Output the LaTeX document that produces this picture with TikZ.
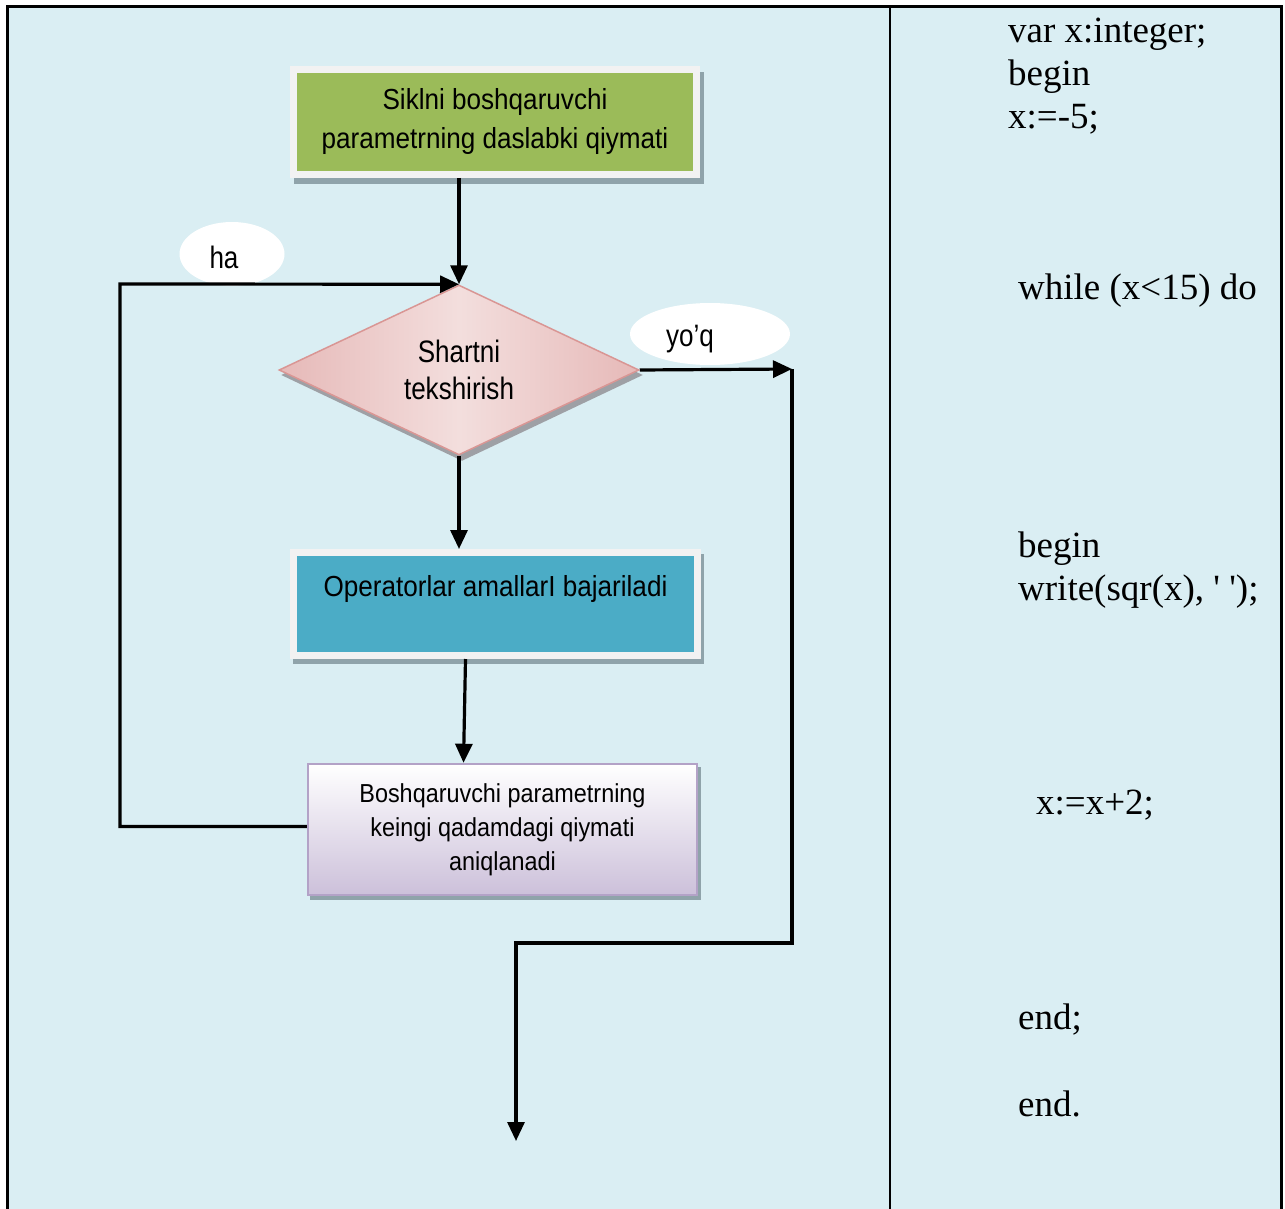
\documentclass[tikz,border=0pt]{standalone}
\usepackage{fontspec}
\setmainfont{Liberation Serif}
\newfontfamily\arialf[FakeStretch=0.9]{Liberation Sans}
\newfontfamily\arialn[FakeStretch=0.84]{Liberation Sans}
\usetikzlibrary{arrows.meta,shapes.geometric}
\pgfdeclarelayer{pagebg}
\pgfdeclarelayer{shadowl}
\pgfsetlayers{pagebg,shadowl,main}
\definecolor{pagec}{HTML}{DAEEF3}
\definecolor{greenc}{HTML}{9BBB59}
\definecolor{bluec}{HTML}{4BACC6}
\definecolor{rimc}{HTML}{F2F2F2}
\definecolor{shadc}{HTML}{8FA3AA}
\definecolor{pinkL}{HTML}{F3DEDD}
\definecolor{pinkD}{HTML}{E6B9B8}
\definecolor{pinkB}{HTML}{D99694}
\definecolor{purpD}{HTML}{CCC0DA}
\definecolor{purpB}{HTML}{B3A2C7}
\begin{document}
\begin{tikzpicture}[x=1pt,y=-1pt,
  arr/.style={line width=3.2pt,-{Triangle[length=19pt,width=17pt]}},
  sfont/.style={font=\arialf\fontsize{29}{39}\selectfont},
  rimbox/.style={draw=rimc,line width=7pt,inner sep=0pt,sfont,align=center},
  oval/.style={ellipse,fill=white,inner sep=0pt,font=\arialn\fontsize{31}{37}\selectfont},
  code/.style={anchor=base west,inner sep=0pt,font=\fontsize{37}{43}\selectfont}
]
\useasboundingbox (0,0) rectangle (1285,1209);
\begin{pgfonlayer}{pagebg}
  \fill[pagec] (7,7) rectangle (1282,1209);
\end{pgfonlayer}
% frame
\draw[line width=3pt] (7,1209) -- (7,7) -- (1281.5,7);
\draw[line width=2.5pt] (1281.5,5.5) -- (1281.5,1209);
\draw[line width=2pt] (889.5,7) -- (889.5,1209);

% ellipses (labels)
\node[oval,minimum width=105pt,minimum height=64pt,text height=28pt,text depth=0pt] (ha) at (232,254) {ha\hspace*{16pt}};
\node[oval,minimum width=160pt,minimum height=62pt,text height=24pt,text depth=0pt] (yoq) at (710,334) {yo’q\hspace*{40pt}};

% boxes
\node[rimbox,fill=greenc,minimum width=403pt,minimum height=105pt] (green) at (495,122)
  {Siklni boshqaruvchi\\parametrning daslabki qiymati};
\node[diamond,aspect=2.1,minimum width=360pt,minimum height=170pt,inner sep=0pt,
  left color=pinkD,right color=pinkD,middle color=pinkL,draw=pinkB,line width=1.5pt,
  font=\arialn\fontsize{31}{37}\selectfont,align=center] (dia) at (459,370)
  {Shartni\\tekshirish};
\node[rimbox,fill=bluec,minimum width=404pt,text height=43.5pt,text depth=59.5pt,anchor=base] (blue) at (495.5,596)
  {Operatorlar amallarI bajariladi};
\node[draw=purpB,line width=2.5pt,top color=white,bottom color=purpD,minimum width=389pt,minimum height=131pt,
  inner sep=0pt,align=center,font=\arialf\fontsize{26}{34}\selectfont] (purple) at (502.5,829.5)
  {Boshqaruvchi parametrning\\keingi qadamdagi qiymati\\aniqlanadi};

% shadows
\begin{pgfonlayer}{shadowl}
  \fill[shadc] ([shift={(4,6)}]green.south west) rectangle ([shift={(4,6)}]green.north east);
  \fill[shadc] ([shift={(3,5)}]blue.south west) rectangle ([shift={(3,5)}]blue.north east);
  \fill[shadc] ([shift={(3,4)}]purple.south west) rectangle ([shift={(3,4)}]purple.north east);
  \fill[shadc!80!pinkB] ([shift={(3,5)}]dia.north) -- ([shift={(3,5)}]dia.east) -- ([shift={(3,5)}]dia.south) -- ([shift={(3,5)}]dia.west) -- cycle;
\end{pgfonlayer}

% connectors
\coordinate (lpA) at (120,826.5);
\coordinate (lpB) at (120,284);
\coordinate (yqA) at (792,369);
\coordinate (exA) at (792,943);
\coordinate (exB) at (516,943);
\coordinate (exC) at (516,1141);
\draw[arr] (dia.north |- green.south) -- (dia.north);
\draw[arr] ([yshift=3pt]purple.west) -- (lpA) -- (lpB) -- (dia.north);
\draw[arr] (dia.east) -- (yqA);
\draw[arr] (yqA) -- (exA) -- (exB) -- (exC);
\draw[arr] (dia.south) -- (dia.south |- blue.north);
\draw[arr] ([xshift=-30pt]blue.south) -- ([xshift=-39pt]purple.north);

% code
\node[code] (c1) at (1008,43) {var x:integer;};
\node[code] (c2) at (1008,86) {begin};
\node[code] (c3) at (1008,129) {x:=-5;};
\node[code] (c4) at (1018,299) {while (x<15) do};
\node[code] (c5) at (1018,557) {begin};
\node[code] (c6) at (1018,600) {write(sqr(x), \textquotesingle\ \textquotesingle);};
\node[code] (c7) at (1036,814) {x:=x+2;};
\node[code] (c8) at (1018,1029) {end;};
\node[code] (c9) at (1018,1116) {end.};
\end{tikzpicture}
\end{document}
